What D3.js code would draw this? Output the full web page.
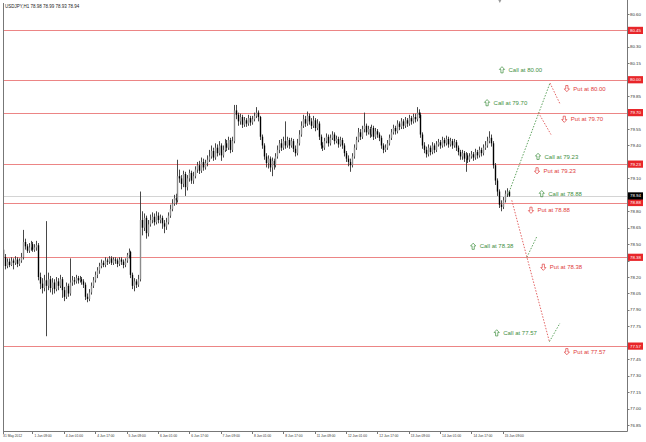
<!DOCTYPE html>
<html>
<head>
<meta charset="utf-8">
<script src="https://cdn.jsdelivr.net/npm/d3@7"></script>
<style>
  body { margin: 0; background: #fff; }
  svg text { font-family: "Liberation Sans", Arial, sans-serif; }
</style>
</head>
<body>
<div class="chart"></div>
<script>
// USDJPY H1, 31 May 2012 18:00 .. 15 Jun 2012
const title = "USDJPY,H1  78.98 78.99 78.93 78.94";
const firstOpen = 78.45;
const close = [
  78.38, 78.30, 78.34, 78.31, 78.35, 78.33, 78.36, 78.32, 78.35, 78.38,
  78.52, 78.48, 78.44, 78.47, 78.50, 78.45, 78.47, 78.49, 78.20, 78.14,
  78.10, 78.17, 78.12, 78.18, 78.10, 78.15, 78.09, 78.16, 78.12, 78.18,
  78.08, 78.02, 78.12, 78.05, 78.15, 78.17, 78.16, 78.19, 78.17, 78.18,
  78.16, 78.13, 78.02, 78.00, 78.06, 78.12, 78.17, 78.22, 78.26, 78.30,
  78.33, 78.31, 78.35, 78.34, 78.37, 78.33, 78.36, 78.35, 78.32, 78.36,
  78.34, 78.31, 78.35, 78.40, 78.43, 78.22, 78.12, 78.16, 78.13, 78.18,
  78.72, 78.65, 78.74, 78.60, 78.68, 78.72, 78.75, 78.70, 78.76, 78.72,
  78.74, 78.69, 78.66, 78.70, 78.76, 78.82, 78.87, 78.92, 78.90, 79.12,
  79.10, 79.05, 79.14, 79.02, 79.10, 79.15, 79.08, 79.12, 79.18, 79.22,
  79.17, 79.25, 79.20, 79.24, 79.27, 79.30, 79.35, 79.29, 79.38, 79.33,
  79.40, 79.31, 79.36, 79.42, 79.38, 79.45, 79.36, 79.44, 79.72, 79.68,
  79.62, 79.66, 79.59, 79.63, 79.60, 79.65, 79.61, 79.64, 79.67, 79.70,
  79.66, 79.48, 79.40, 79.30, 79.24, 79.28, 79.20, 79.26, 79.22, 79.30,
  79.36, 79.42, 79.38, 79.44, 79.40, 79.45, 79.40, 79.44, 79.37, 79.33,
  79.42, 79.50, 79.58, 79.64, 79.60, 79.67, 79.62, 79.58, 79.63, 79.56,
  79.60, 79.48, 79.40, 79.38, 79.44, 79.48, 79.42, 79.47, 79.50, 79.44,
  79.46, 79.41, 79.45, 79.40, 79.33, 79.28, 79.25, 79.22, 79.30, 79.38,
  79.45, 79.52, 79.48, 79.55, 79.58, 79.52, 79.55, 79.50, 79.56, 79.48,
  79.53, 79.50, 79.47, 79.40, 79.36, 79.38, 79.42, 79.47, 79.52, 79.56,
  79.53, 79.60, 79.57, 79.62, 79.58, 79.63, 79.60, 79.65, 79.62, 79.66,
  79.64, 79.70, 79.68, 79.50, 79.40, 79.36, 79.32, 79.38, 79.34, 79.40,
  79.36, 79.41, 79.43, 79.40, 79.45, 79.42, 79.46, 79.41, 79.44, 79.40,
  79.43, 79.38, 79.34, 79.30, 79.33, 79.28, 79.31, 79.27, 79.30, 79.32,
  79.29, 79.34, 79.31, 79.36, 79.33, 79.38, 79.40, 79.44, 79.47, 79.42,
  79.22, 79.08, 78.98, 78.86, 78.84, 78.90, 78.96, 78.98, 78.94
];
const high = [
  78.57, 78.41, 78.37, 78.37, 78.38, 78.37, 78.39, 78.38, 78.37, 78.42,
  78.63, 78.55, 78.50, 78.51, 78.53, 78.52, 78.50, 78.53, 78.51, 78.24,
  78.19, 78.22, 78.71, 78.24, 78.21, 78.19, 78.18, 78.20, 78.19, 78.22,
  78.20, 78.11, 78.15, 78.14, 78.37, 78.21, 78.20, 78.22, 78.21, 78.21,
  78.20, 78.18, 78.15, 78.05, 78.09, 78.15, 78.20, 78.25, 78.29, 78.33,
  78.36, 78.35, 78.38, 78.37, 78.39, 78.39, 78.38, 78.38, 78.37, 78.38,
  78.38, 78.36, 78.37, 78.42, 78.46, 78.44, 78.24, 78.19, 78.18, 78.22,
  78.98, 78.80, 78.78, 78.76, 78.72, 78.77, 78.79, 78.78, 78.80, 78.79,
  78.77, 78.76, 78.72, 78.74, 78.79, 78.86, 78.91, 78.95, 78.96, 79.27,
  79.18, 79.13, 79.17, 79.16, 79.13, 79.18, 79.17, 79.16, 79.21, 79.25,
  79.26, 79.29, 79.28, 79.27, 79.31, 79.36, 79.40, 79.38, 79.42, 79.41,
  79.44, 79.42, 79.40, 79.46, 79.45, 79.48, 79.47, 79.48, 79.77, 79.77,
  79.70, 79.69, 79.68, 79.66, 79.65, 79.68, 79.67, 79.67, 79.70, 79.75,
  79.72, 79.67, 79.50, 79.42, 79.33, 79.31, 79.30, 79.29, 79.28, 79.33,
  79.40, 79.45, 79.46, 79.48, 79.62, 79.48, 79.47, 79.47, 79.46, 79.40,
  79.46, 79.54, 79.62, 79.68, 79.67, 79.71, 79.69, 79.65, 79.67, 79.65,
  79.64, 79.62, 79.50, 79.43, 79.47, 79.51, 79.50, 79.50, 79.53, 79.52,
  79.49, 79.48, 79.48, 79.47, 79.42, 79.35, 79.31, 79.28, 79.33, 79.41,
  79.48, 79.56, 79.55, 79.58, 79.70, 79.60, 79.58, 79.57, 79.59, 79.58,
  79.56, 79.55, 79.52, 79.49, 79.42, 79.41, 79.45, 79.50, 79.55, 79.59,
  79.58, 79.63, 79.62, 79.65, 79.64, 79.66, 79.65, 79.68, 79.67, 79.69,
  79.69, 79.75, 79.73, 79.70, 79.52, 79.43, 79.39, 79.41, 79.40, 79.43,
  79.42, 79.44, 79.46, 79.45, 79.48, 79.47, 79.49, 79.48, 79.47, 79.46,
  79.46, 79.45, 79.40, 79.36, 79.36, 79.35, 79.34, 79.33, 79.33, 79.35,
  79.34, 79.37, 79.36, 79.39, 79.38, 79.41, 79.44, 79.48, 79.53, 79.50,
  79.44, 79.24, 79.10, 79.00, 78.90, 78.93, 78.99, 79.01, 78.99
];
const low = [
  78.28, 78.27, 78.28, 78.29, 78.30, 78.27, 78.31, 78.29, 78.30, 78.33,
  78.36, 78.45, 78.42, 78.42, 78.44, 78.43, 78.43, 78.44, 78.17, 78.09,
  78.05, 78.07, 77.66, 78.08, 78.06, 78.04, 78.05, 78.07, 78.08, 78.10,
  78.01, 77.98, 78.00, 78.02, 78.03, 78.12, 78.13, 78.14, 78.14, 78.15,
  78.13, 78.10, 77.99, 77.97, 77.98, 78.04, 78.10, 78.15, 78.19, 78.23,
  78.28, 78.29, 78.29, 78.31, 78.32, 78.31, 78.31, 78.32, 78.29, 78.30,
  78.31, 78.28, 78.29, 78.33, 78.37, 78.19, 78.09, 78.07, 78.10, 78.11,
  78.16, 78.58, 78.62, 78.55, 78.57, 78.66, 78.69, 78.67, 78.68, 78.69,
  78.69, 78.64, 78.60, 78.63, 78.68, 78.74, 78.80, 78.85, 78.86, 78.88,
  79.06, 79.00, 79.02, 78.94, 78.99, 79.07, 79.05, 79.05, 79.10, 79.15,
  79.14, 79.15, 79.17, 79.18, 79.21, 79.25, 79.28, 79.26, 79.27, 79.30,
  79.31, 79.26, 79.29, 79.34, 79.35, 79.36, 79.33, 79.34, 79.42, 79.64,
  79.58, 79.59, 79.56, 79.57, 79.57, 79.58, 79.58, 79.59, 79.62, 79.65,
  79.62, 79.45, 79.37, 79.27, 79.20, 79.19, 79.16, 79.12, 79.18, 79.20,
  79.28, 79.33, 79.35, 79.36, 79.37, 79.38, 79.37, 79.38, 79.34, 79.30,
  79.31, 79.40, 79.48, 79.56, 79.57, 79.58, 79.59, 79.55, 79.56, 79.53,
  79.54, 79.45, 79.37, 79.35, 79.36, 79.42, 79.39, 79.40, 79.45, 79.41,
  79.42, 79.38, 79.39, 79.37, 79.30, 79.25, 79.21, 79.16, 79.20, 79.28,
  79.36, 79.43, 79.45, 79.46, 79.52, 79.49, 79.50, 79.47, 79.48, 79.45,
  79.46, 79.47, 79.44, 79.37, 79.33, 79.34, 79.36, 79.40, 79.45, 79.50,
  79.50, 79.51, 79.54, 79.55, 79.55, 79.56, 79.57, 79.58, 79.59, 79.60,
  79.61, 79.62, 79.65, 79.47, 79.37, 79.33, 79.29, 79.30, 79.31, 79.32,
  79.33, 79.34, 79.39, 79.37, 79.38, 79.39, 79.40, 79.38, 79.39, 79.37,
  79.38, 79.35, 79.31, 79.27, 79.27, 79.25, 79.16, 79.24, 79.25, 79.28,
  79.26, 79.27, 79.28, 79.29, 79.30, 79.31, 79.36, 79.38, 79.42, 79.39,
  79.19, 79.04, 78.94, 78.83, 78.80, 78.82, 78.88, 78.93, 78.93
];

const levels = [80.45, 80.00, 79.70, 79.23, 78.88, 78.38, 77.57];
const bid = 78.94;
const yTicks = [80.60, 80.45, 80.30, 80.15, 80.00, 79.85, 79.70, 79.55, 79.40, 79.25,
  79.10, 78.95, 78.80, 78.65, 78.50, 78.35, 78.20, 78.05, 77.90, 77.75, 77.60,
  77.45, 77.30, 77.15, 77.00, 76.85];
const xTickBars = [0, 15, 31, 47, 63, 79, 95, 111, 127, 143, 159, 175, 191, 207, 223, 239, 255];
const xTickLabels = ["31 May 2012", "1 Jun 09:00", "4 Jun 01:00", "4 Jun 17:00", "5 Jun 09:00",
  "6 Jun 01:00", "6 Jun 17:00", "7 Jun 09:00", "8 Jun 01:00", "8 Jun 17:00", "11 Jun 09:00",
  "12 Jun 01:00", "12 Jun 17:00", "13 Jun 09:00", "14 Jun 01:00", "14 Jun 17:00", "15 Jun 09:00"];
const shiftBar = 253.5; // chart-shift marker on the top edge

// projected paths: [bar, price] pairs
const callLines = [
  [[257.7, 78.95], [279.1, 79.97]],
  [[267.3, 78.38], [272.4, 78.57]],
  [[278.8, 77.61], [284.2, 77.78]]
];
const putLines = [
  [[259.6, 78.90], [278.8, 77.61]],
  [[273.2, 79.70], [279.6, 79.50]],
  [[279.1, 79.97], [284.2, 79.78]]
];
const callLabels = [
  ["Call at 80.00", 254.6, 80.09],
  ["Call at 79.70", 247.0, 79.79],
  ["Call at 79.23", 273.0, 79.30],
  ["Call at 78.88", 274.9, 78.96],
  ["Call at 78.38", 239.9, 78.48],
  ["Call at 77.57", 251.9, 77.69]
];
const putLabels = [
  ["Put at 80.00", 287.7, 79.92],
  ["Put at 79.70", 286.4, 79.64],
  ["Put at 79.23", 272.5, 79.17],
  ["Put at 78.88", 269.4, 78.81],
  ["Put at 78.38", 275.7, 78.29],
  ["Put at 77.57", 287.7, 77.52]
];

const W = 646, H = 442;
const plot = {left: 3, right: 627, top: 3, bottom: 430.5};

const svg = d3.select(".chart").append("svg")
    .attr("width", W)
    .attr("height", H)
    .attr("viewBox", [0, 0, W, H]);

const x = d3.scaleLinear().domain([-0.05, 318.4]).range([plot.left, plot.right]);
const y = d3.scaleLinear().domain([76.80, 80.70]).range([plot.bottom, plot.top]);

svg.append("clipPath").attr("id", "clip")
  .append("rect")
    .attr("x", plot.left).attr("y", plot.top)
    .attr("width", plot.right - plot.left).attr("height", plot.bottom - plot.top);

// level lines
const lv = svg.append("g").attr("clip-path", "url(#clip)");
lv.append("line")
    .attr("x1", plot.left).attr("x2", plot.right)
    .attr("y1", Math.round(y(bid)) + 0.5).attr("y2", Math.round(y(bid)) + 0.5)
    .attr("stroke", "#d4d4d4");
lv.selectAll(".level").data(levels).join("line")
    .attr("x1", plot.left).attr("x2", plot.right)
    .attr("y1", d => Math.round(y(d)) + 0.5).attr("y2", d => Math.round(y(d)) + 0.5)
    .attr("stroke", "#ec8585")
    .attr("stroke-width", 1.1);

// candles
const bars = close.map((c, i) => ({
  i, o: i === 0 ? firstOpen : close[i - 1], c, h: high[i], l: low[i]
}));
const cg = svg.append("g").attr("clip-path", "url(#clip)");
cg.selectAll(".wick").data(bars).join("line")
    .attr("x1", d => Math.round(x(d.i)) + 0.5).attr("x2", d => Math.round(x(d.i)) + 0.5)
    .attr("y1", d => y(d.h)).attr("y2", d => y(d.l))
    .attr("stroke", "#333")
    .attr("stroke-width", 0.9);
cg.selectAll(".body").data(bars).join("rect")
    .attr("x", d => Math.round(x(d.i)) - 0.2)
    .attr("width", 1.4)
    .attr("y", d => y(Math.max(d.o, d.c)))
    .attr("height", d => Math.max(0.8, Math.abs(y(d.o) - y(d.c))))
    .attr("fill", d => d.c < d.o ? "#000" : "#8c8c8c");

// projections
const line = d3.line().x(d => x(d[0])).y(d => y(d[1]));
svg.append("g").selectAll("path").data(callLines).join("path")
    .attr("d", line)
    .attr("fill", "none")
    .attr("stroke", "#4f9a4f")
    .attr("stroke-width", 0.9)
    .attr("stroke-dasharray", "1.5,1.5");
svg.append("g").selectAll("path").data(putLines).join("path")
    .attr("d", line)
    .attr("fill", "none")
    .attr("stroke", "#e05454")
    .attr("stroke-width", 0.9)
    .attr("stroke-dasharray", "1.5,1.5");

// call / put labels with hollow arrows
const upArrow = "M0,-3.2L2.6,-0.4H1.1V3H-1.1V-0.4H-2.6Z";
function labels(data, dir, color) {
  const g = svg.append("g").attr("fill", color);
  const item = g.selectAll("g").data(data).join("g")
      .attr("transform", d => `translate(${x(d[1])},${y(d[2])})`);
  item.append("path")
      .attr("d", upArrow)
      .attr("transform", `scale(1,${dir})`)
      .attr("fill", "none")
      .attr("stroke", color)
      .attr("stroke-width", 0.7);
  item.append("text")
      .attr("x", 6.5)
      .attr("dy", "0.35em")
      .attr("font-size", 6)
      .text(d => d[0]);
}
labels(callLabels, 1, "#3f8f3f");
labels(putLabels, -1, "#e03c3c");

// frame
svg.append("path")
    .attr("d", `M${plot.left + 0.5},${plot.top}V${Math.round(plot.bottom) + 0.5}H${plot.right + 0.5}V0`)
    .attr("fill", "none")
    .attr("stroke", "#777");
svg.append("path")
    .attr("transform", `translate(${x(shiftBar)},0)`)
    .attr("d", "M-1.5,0H1.5L0,3Z")
    .attr("fill", "#999");

// y axis (tick labels under a price box are hidden, as in the terminal)
const boxed = levels.concat([bid]);
const ya = svg.append("g").attr("font-size", 4.4).attr("fill", "#333");
ya.selectAll("line").data(yTicks).join("line")
    .attr("x1", plot.right).attr("x2", plot.right + 2.5)
    .attr("y1", d => Math.round(y(d)) + 0.5).attr("y2", d => Math.round(y(d)) + 0.5)
    .attr("stroke", "#777");
ya.selectAll("text").data(yTicks.filter(t => boxed.every(b => Math.abs(y(b) - y(t)) > 6)))
  .join("text")
    .attr("x", plot.right + 3)
    .attr("y", d => y(d))
    .attr("dy", "0.35em")
    .text(d => d.toFixed(2));

// price boxes on the axis
function priceBox(v, bg) {
  const g = svg.append("g").attr("transform", `translate(${plot.right + 1},${y(v)})`);
  g.append("rect").attr("x", 0).attr("y", -3.6).attr("width", 15).attr("height", 7.2).attr("fill", bg);
  g.append("text").attr("x", 7.5).attr("dy", "0.35em").attr("text-anchor", "middle")
      .attr("font-size", 4.4).attr("fill", "#fff").text(v.toFixed(2));
}
levels.forEach(v => priceBox(v, "#e8262a"));
priceBox(bid, "#000");

// x axis
const xa = svg.append("g").attr("font-size", 4.4).attr("fill", "#333");
xa.selectAll("line").data(xTickBars).join("line")
    .attr("x1", d => Math.round(x(d)) + 0.5).attr("x2", d => Math.round(x(d)) + 0.5)
    .attr("y1", Math.round(plot.bottom)).attr("y2", Math.round(plot.bottom) + 3)
    .attr("stroke", "#777");
xa.selectAll("text").data(xTickBars).join("text")
    .attr("transform", (d, i) => `translate(${x(d) + (i === 0 ? 0 : 2)},${plot.bottom + 6.5}) scale(0.75,1)`)
    .text((d, i) => xTickLabels[i]);

// title
svg.append("text")
    .attr("x", 5).attr("y", 8)
    .attr("font-size", 4.5)
    .attr("fill", "#222")
    .text(title);
</script>
</body>
</html>
